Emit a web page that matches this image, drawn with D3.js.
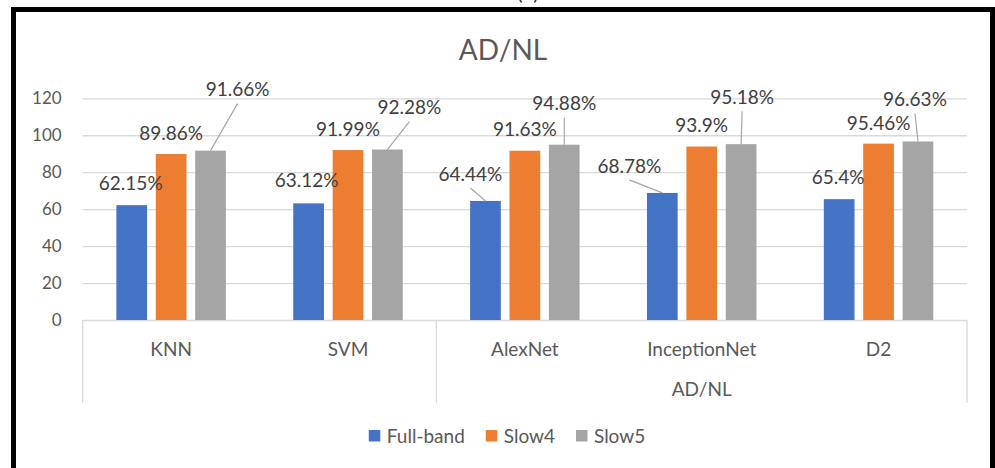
<!DOCTYPE html>
<html>
<head>
<meta charset="utf-8">
<script src="https://cdn.jsdelivr.net/npm/d3@7"></script>
<style>
  html, body { margin: 0; padding: 0; background: #ffffff; }
  svg { display: block; }
  text { font-family: Lato, "Open Sans", "Noto Sans", sans-serif; }
</style>
</head>
<body>
<svg id="chart" width="995" height="468"></svg>
<script>
// ---- data ----
const categories = ["KNN", "SVM", "AlexNet", "InceptionNet", "D2"];
const groupLabels = ["", "AD/NL"];
const groupStarts = [0, 2];
const groupEnds = [1, 4];
const seriesNames = ["Full-band", "Slow4", "Slow5"];
const fullBand = [62.15, 63.12, 64.44, 68.78, 65.4];
const slow4 = [89.86, 91.99, 91.63, 93.9, 95.46];
const slow5 = [91.66, 92.28, 94.88, 95.18, 96.63];
const yTicks = [0, 20, 40, 60, 80, 100, 120];
const chartTitle = "AD/NL";
const panelTag = "(b)";

// ---- label placement (pixel offsets from each bar's top centre) ----
const shiftFull = [[-1, -22], [-2, -23], [-15, -27], [-33, -27], [-1, -22]];
const shiftSlow4 = [[0, -21], [0, -21], [0, -21], [0, -21], [0, -20]];
const shiftSlow5 = [[27, -61], [22, -42], [0, -41], [1, -47], [-3, -42]];

const seriesValues = [fullBand, slow4, slow5];
const seriesShift = [shiftFull, shiftSlow4, shiftSlow5];
const colors = ["#4472C4", "#ED7D31", "#A5A5A5"];

const svg = d3.select("#chart");

// outer frame
svg.append("rect")
  .attr("x", 13.5).attr("y", 9.5)
  .attr("width", 979).attr("height", 520)
  .attr("fill", "none").attr("stroke", "#000").attr("stroke-width", 5);

// panel tag, mostly above the frame
svg.append("text")
  .attr("x", 528).attr("y", 0)
  .attr("text-anchor", "middle")
  .attr("font-size", 20).attr("fill", "#222")
  .text(panelTag);

// title
svg.append("text")
  .attr("x", 503).attr("y", 50)
  .attr("dy", "0.35em")
  .attr("text-anchor", "middle")
  .attr("font-size", 28).attr("fill", "#595959")
  .text(chartTitle);

// ---- scales ----
const plotLeft = 82.7, plotRight = 967, plotBottom = 320, plotTop = 98.3;
const x = d3.scaleBand().domain(categories).range([plotLeft, plotRight]);
const xs = d3.scaleBand().domain(seriesNames).range([0, x.bandwidth()])
  .paddingInner(0.221).paddingOuter(0.855);
const y = d3.scaleLinear().domain([0, 120]).range([plotBottom, plotTop]);

// gridlines
const grid = svg.append("g").attr("transform", `translate(${plotLeft},0)`)
  .call(d3.axisLeft(y).tickValues(yTicks).tickSize(-(plotRight - plotLeft)).tickFormat(""));
grid.select(".domain").remove();
grid.selectAll(".tick line").attr("stroke", "#D9D9D9").attr("stroke-width", 1.3);

// y axis labels
const yAxis = svg.append("g").attr("transform", `translate(${plotLeft},0)`)
  .call(d3.axisLeft(y).tickValues(yTicks).tickSize(0).tickPadding(21));
yAxis.select(".domain").remove();
yAxis.selectAll("text")
  .attr("font-family", "Lato, 'Open Sans', sans-serif")
  .attr("font-size", 17).attr("fill", "#595959");

// category axis lines
const catLines = [];
groupStarts.forEach((s, i) => {
  catLines.push(x(categories[s]));
  catLines.push(x(categories[groupEnds[i]]) + x.bandwidth());
});
svg.append("g").selectAll("line")
  .data(Array.from(new Set(catLines.map(v => Math.round(v * 10) / 10))))
  .join("line")
  .attr("x1", d => d).attr("x2", d => d)
  .attr("y1", plotBottom).attr("y2", 403)
  .attr("stroke", "#D9D9D9").attr("stroke-width", 1.3);

// category labels
const xAxis = svg.append("g").attr("transform", `translate(0,${plotBottom})`)
  .call(d3.axisBottom(x).tickSize(0));
xAxis.select(".domain").remove();
xAxis.selectAll("text")
  .attr("y", 29).attr("dy", "0.35em")
  .attr("font-family", "Lato, 'Open Sans', sans-serif")
  .attr("font-size", 19).attr("fill", "#595959");

// group labels
svg.append("g").selectAll("text")
  .data(groupLabels.map((g, i) => ({ g, i })).filter(d => d.g !== ""))
  .join("text")
  .attr("x", d => (x(categories[groupStarts[d.i]]) + x(categories[groupEnds[d.i]]) + x.bandwidth()) / 2)
  .attr("y", 389).attr("dy", "0.35em")
  .attr("text-anchor", "middle")
  .attr("font-size", 19).attr("fill", "#595959")
  .text(d => d.g);

// ---- bars ----
const barData = [];
seriesNames.forEach((s, si) => {
  categories.forEach((c, ci) => {
    barData.push({ s, si, c, ci, v: seriesValues[si][ci], shift: seriesShift[si][ci] });
  });
});

svg.append("g").selectAll("rect")
  .data(barData)
  .join("rect")
  .attr("x", d => x(d.c) + xs(d.s))
  .attr("y", d => y(d.v))
  .attr("width", xs.bandwidth())
  .attr("height", d => y(0) - y(d.v))
  .attr("fill", d => colors[d.si]);

// leader lines for labels pulled away from their bars
const cx = d => x(d.c) + xs(d.s) + xs.bandwidth() / 2;
const needsLeader = d => Math.abs(d.shift[0]) > 10 || d.shift[1] < -30;
svg.append("g").selectAll("line")
  .data(barData.filter(needsLeader))
  .join("line")
  .attr("x1", d => cx(d) + d.shift[0])
  .attr("y1", d => y(d.v) + d.shift[1] + 14)
  .attr("x2", d => cx(d))
  .attr("y2", d => y(d.v))
  .attr("stroke", "#A6A6A6").attr("stroke-width", 1.2);

// data labels
svg.append("g").selectAll("text")
  .data(barData)
  .join("text")
  .attr("x", d => cx(d) + d.shift[0])
  .attr("y", d => y(d.v) + d.shift[1])
  .attr("dy", "0.35em")
  .attr("text-anchor", "middle")
  .attr("font-size", 19).attr("fill", "#404040")
  .text(d => d.v + "%");

// ---- legend ----
const legend = svg.append("g");
const items = legend.selectAll("g").data(seriesNames).join("g");
items.append("rect")
  .attr("width", 11.5).attr("height", 11.5)
  .attr("y", 430)
  .attr("fill", (d, i) => colors[i]);
items.append("text")
  .attr("x", 18).attr("y", 436).attr("dy", "0.35em")
  .attr("font-size", 19).attr("fill", "#595959")
  .text(d => d);
let pos = 0;
const offsets = [];
items.each(function () {
  offsets.push(pos);
  pos += 18 + d3.select(this).select("text").node().getComputedTextLength() + 21;
});
const legendWidth = pos - 21;
const legendStart = 507 - legendWidth / 2;
items.attr("transform", (d, i) => `translate(${legendStart + offsets[i]},0)`);
</script>
</body>
</html>
